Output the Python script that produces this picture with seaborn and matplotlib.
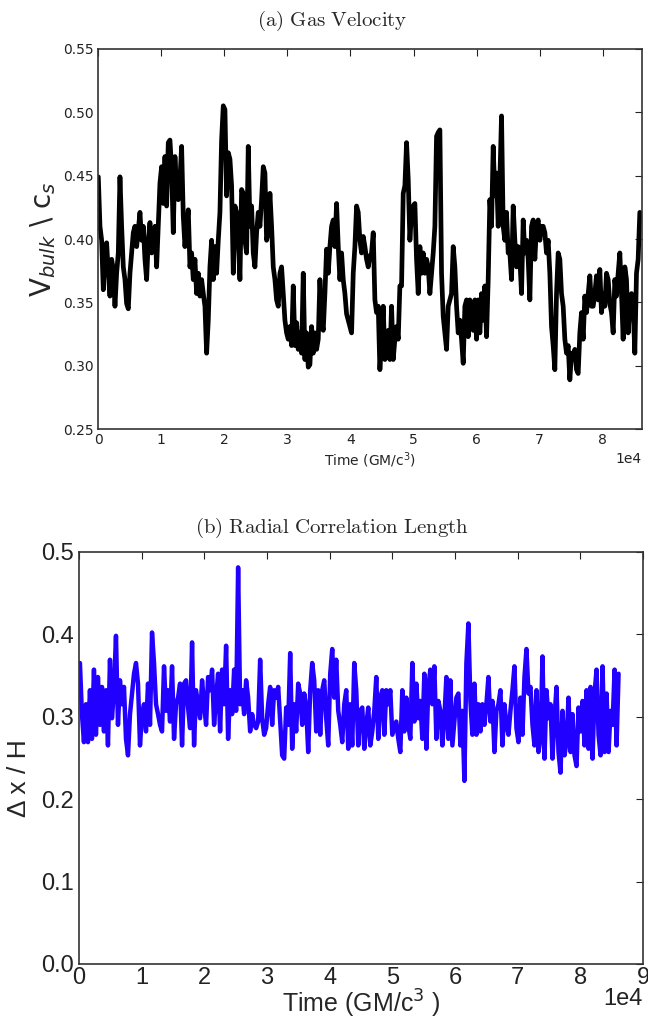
import numpy as np
import seaborn as sns
import matplotlib.pyplot as plt
from matplotlib.ticker import FormatStrFormatter

# (a) gas velocity v_bulk / c_s
vbulk = [
    0.449, 0.410, 0.399, 0.360, 0.394, 0.397, 0.373, 0.355, 0.384, 0.376,
    0.347, 0.373, 0.389, 0.449, 0.410, 0.378, 0.368, 0.349, 0.345, 0.373,
    0.389, 0.405, 0.410, 0.394, 0.407, 0.421, 0.399, 0.410, 0.384, 0.368,
    0.399, 0.413, 0.389, 0.394, 0.410, 0.378, 0.410, 0.444, 0.457, 0.428,
    0.465, 0.426, 0.476, 0.478, 0.455, 0.405, 0.465, 0.439, 0.431, 0.447,
    0.473, 0.418, 0.394, 0.410, 0.423, 0.378, 0.389, 0.368, 0.384, 0.357,
    0.373, 0.355, 0.368, 0.357, 0.347, 0.310, 0.336, 0.378, 0.399, 0.368,
    0.394, 0.373, 0.399, 0.421, 0.478, 0.505, 0.502, 0.434, 0.468, 0.463,
    0.442, 0.373, 0.426, 0.421, 0.399, 0.368, 0.439, 0.436, 0.399, 0.389,
    0.473, 0.410, 0.426, 0.389, 0.378, 0.405, 0.421, 0.410, 0.431, 0.457,
    0.452, 0.399, 0.405, 0.436, 0.410, 0.378, 0.368, 0.352, 0.347, 0.373,
    0.378, 0.357, 0.336, 0.326, 0.321, 0.331, 0.316, 0.363, 0.316, 0.334,
    0.313, 0.326, 0.310, 0.373, 0.305, 0.326, 0.299, 0.301, 0.331, 0.310,
    0.326, 0.313, 0.321, 0.368, 0.336, 0.328, 0.357, 0.392, 0.373, 0.394,
    0.410, 0.415, 0.394, 0.428, 0.394, 0.368, 0.389, 0.368, 0.357, 0.341,
    0.336, 0.331, 0.326, 0.373, 0.394, 0.426, 0.421, 0.399, 0.389, 0.402,
    0.394, 0.384, 0.378,
    0.386, 0.389, 0.405, 0.352, 0.342, 0.347, 0.297, 0.321, 0.347, 0.305,
    0.310, 0.328, 0.305, 0.347, 0.305, 0.321, 0.331, 0.321, 0.363, 0.363,
    0.436, 0.442, 0.476, 0.447, 0.399, 0.421, 0.426, 0.428, 0.384, 0.357,
    0.394, 0.373, 0.389, 0.373, 0.384, 0.378, 0.357, 0.373, 0.389, 0.410,
    0.481, 0.484, 0.486, 0.373, 0.339, 0.326, 0.313, 0.347, 0.352, 0.357,
    0.394, 0.378, 0.347, 0.326, 0.336, 0.321, 0.302, 0.347, 0.352, 0.323,
    0.352, 0.347, 0.328, 0.352, 0.321, 0.352, 0.326, 0.357, 0.336, 0.363,
    0.323, 0.368, 0.431, 0.410, 0.473, 0.434, 0.452, 0.410, 0.447, 0.497,
    0.410, 0.399, 0.421, 0.389, 0.389, 0.368, 0.426, 0.399, 0.378, 0.394,
    0.384, 0.357, 0.415, 0.389, 0.399, 0.384, 0.352, 0.410, 0.415, 0.384,
    0.410, 0.415, 0.399, 0.410, 0.410, 0.405, 0.389, 0.399, 0.373, 0.331,
    0.316, 0.297, 0.357, 0.389, 0.384, 0.357, 0.347, 0.321, 0.310, 0.316,
    0.289, 0.310, 0.305, 0.313, 0.297, 0.294, 0.326, 0.342, 0.321, 0.355,
    0.342, 0.357, 0.371, 0.347, 0.347, 0.357, 0.371, 0.352, 0.376, 0.342,
    0.357, 0.347, 0.373, 0.368, 0.349, 0.342, 0.326, 0.368, 0.355, 0.373,
    0.389, 0.357, 0.321, 0.378, 0.368, 0.326, 0.347, 0.357, 0.347, 0.310,
    0.373, 0.384, 0.421,
]

# (b) radial correlation length dx / H
corr_len = [
    0.365, 0.303, 0.269, 0.315, 0.269, 0.332, 0.273, 0.357, 0.278, 0.348,
    0.290, 0.336, 0.282, 0.332, 0.265, 0.369, 0.298, 0.332, 0.398, 0.290,
    0.344, 0.315, 0.336, 0.273, 0.253, 0.303, 0.328, 0.352, 0.365, 0.340,
    0.265, 0.303, 0.315, 0.282, 0.340, 0.290, 0.402, 0.365, 0.315, 0.303,
    0.290, 0.282, 0.361, 0.307, 0.332, 0.294, 0.361, 0.273, 0.315, 0.323,
    0.340, 0.265, 0.340, 0.344, 0.311, 0.286, 0.390, 0.265, 0.332, 0.315,
    0.298, 0.344, 0.315, 0.290, 0.348,
    0.332, 0.357, 0.290, 0.323, 0.352, 0.282, 0.357, 0.315, 0.386, 0.273,
    0.332, 0.303, 0.357, 0.307, 0.481, 0.315, 0.332, 0.303, 0.344, 0.323,
    0.282, 0.303, 0.290, 0.286, 0.294, 0.369, 0.298, 0.278, 0.286, 0.315,
    0.336, 0.290, 0.332, 0.323, 0.336, 0.294, 0.253, 0.249, 0.311, 0.290,
    0.377, 0.261, 0.315, 0.282, 0.340, 0.328, 0.290, 0.328, 0.311, 0.257,
    0.332, 0.365, 0.344, 0.282, 0.332, 0.278, 0.332, 0.344, 0.298, 0.265,
    0.352, 0.382, 0.323, 0.369, 0.307, 0.290, 0.269, 0.315, 0.332, 0.261,
    0.315, 0.265, 0.365, 0.332, 0.265, 0.307, 0.311, 0.261, 0.290, 0.311,
    0.265, 0.282, 0.307, 0.348, 0.273, 0.323, 0.332, 0.278, 0.332, 0.315,
    0.332, 0.278, 0.286, 0.294, 0.273, 0.257, 0.332, 0.282, 0.323, 0.290,
    0.273, 0.365, 0.294, 0.340, 0.298, 0.319, 0.273, 0.352, 0.261, 0.336,
    0.357, 0.315, 0.361, 0.273, 0.319, 0.307, 0.265, 0.298, 0.348, 0.273,
    0.344, 0.265, 0.294, 0.323, 0.328, 0.265, 0.307, 0.222, 0.365, 0.413,
    0.319, 0.278, 0.340, 0.278, 0.315, 0.282, 0.315, 0.290,
    0.315, 0.348, 0.294, 0.319, 0.257, 0.307, 0.315, 0.332, 0.265, 0.315,
    0.290, 0.278, 0.307, 0.332, 0.361, 0.286, 0.269, 0.323, 0.278, 0.348,
    0.382, 0.328, 0.336, 0.290, 0.265, 0.332, 0.257, 0.273, 0.373, 0.249,
    0.332, 0.298, 0.315, 0.249, 0.298, 0.336, 0.257, 0.232, 0.307, 0.253,
    0.269, 0.323, 0.257, 0.303, 0.253, 0.240, 0.311, 0.282, 0.319, 0.265,
    0.332, 0.261, 0.336, 0.249, 0.328, 0.357, 0.278, 0.253, 0.361, 0.257,
    0.328, 0.257, 0.307, 0.290, 0.357, 0.265, 0.352,
]

# both runs are sampled evenly in time (GM/c^3)
t_vbulk = np.linspace(0, 85900, len(vbulk))
t_corr = np.linspace(150, 86100, len(corr_len))

sns.set_style("white")
narrow = ['Liberation Sans Narrow', 'Liberation Sans', 'DejaVu Sans']

fig = plt.figure(figsize=(6.48, 10.19), dpi=100)
ax1 = fig.add_axes([0.1517, 0.5787, 0.8386, 0.3735])
ax2 = fig.add_axes([0.1219, 0.054, 0.8704, 0.4046])

# panel (a)
sns.lineplot(x=t_vbulk, y=vbulk, ax=ax1, color='black', lw=3.4)
ax1.set_xlim(0, 86200)
ax1.set_ylim(0.25, 0.55)
ax1.set_xticks(np.arange(0, 80001, 10000))
ax1.set_yticks(np.arange(0.25, 0.551, 0.05))
ax1.yaxis.set_major_formatter(FormatStrFormatter('%.2f'))
ax1.ticklabel_format(style='sci', axis='x', scilimits=(0, 0))
ax1.tick_params(direction='in', top=True, right=True, length=5, width=0.8,
                labelsize=10, colors='#222222', pad=3)
ax1.xaxis.get_offset_text().set_fontsize(10)
ax1.set_xlabel('Time (GM/c$^3$)', fontsize=10, labelpad=2)
ax1.set_ylabel(r'V$_{bulk}$ \ c$_s$', fontsize=20, labelpad=4)

# panel (b)
sns.lineplot(x=t_corr, y=corr_len, ax=ax2, color='#2200ff', lw=3.2)
ax2.set_xlim(0, 90000)
ax2.set_ylim(0, 0.5)
ax2.set_xticks(np.arange(0, 90001, 10000))
ax2.set_yticks(np.arange(0, 0.51, 0.1))
ax2.yaxis.set_major_formatter(FormatStrFormatter('%.1f'))
ax2.ticklabel_format(style='sci', axis='x', scilimits=(0, 0))
ax2.tick_params(direction='in', top=True, right=True, length=5, width=0.8,
                labelsize=17, colors='#222222', pad=2)
ax2.tick_params(axis='y', pad=4)
for lab in ax2.get_xticklabels() + ax2.get_yticklabels():
    lab.set_family(narrow)
ax2.xaxis.get_offset_text().set_visible(False)
ax2.text(1.0, -0.086, '1e4', transform=ax2.transAxes, ha='right',
         va='center', fontsize=17, family=narrow, color='#222222')
ax2.set_xlabel('Time (GM/c$^3$ )', fontsize=18, family=narrow, labelpad=-1)
ax2.set_ylabel('Δ x / H', fontsize=19, family=narrow)
ax2.yaxis.set_label_coords(-0.085, 0.45)

for ax in (ax1, ax2):
    for sp in ax.spines.values():
        sp.set_color('#333333')
        sp.set_linewidth(1.2)

fig.text(0.512, 0.979, r'$\mathrm{(a)\ Gas\ Velocity}$', ha='center',
         va='center', fontsize=15, math_fontfamily='cm')
fig.text(0.512, 0.482, r'$\mathrm{(b)\ Radial\ Correlation\ Length}$',
         ha='center', va='center', fontsize=15, math_fontfamily='cm')

fig.savefig('out.png', dpi=100)
